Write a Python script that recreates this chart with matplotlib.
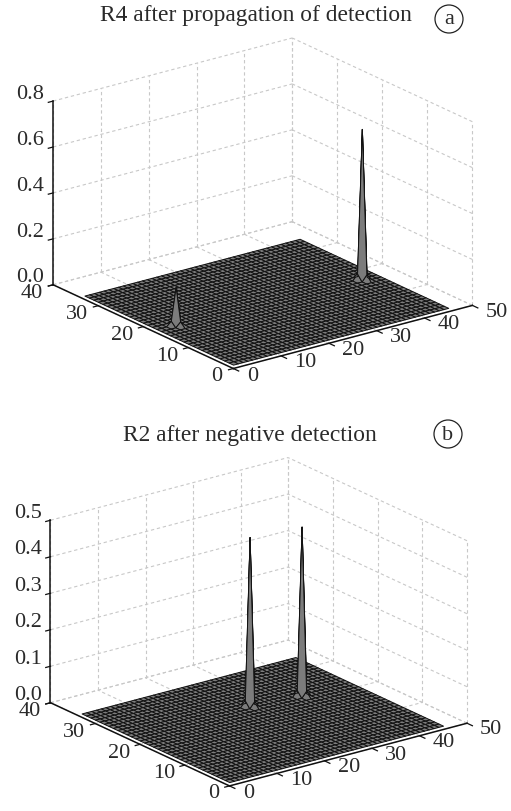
import matplotlib
matplotlib.use('Agg')
import matplotlib.pyplot as plt
import numpy as np
from matplotlib.patches import Ellipse
from mpl_toolkits.mplot3d import proj3d

plt.rcParams['font.family'] = ['Liberation Serif', 'DejaVu Serif']

# surface grid (1-based sample indices)
nx = 46
ny = 34

x_ticks = [0, 10, 20, 30, 40, 50]
y_ticks = [0, 10, 20, 30, 40]
z_ticks_a = [0.0, 0.2, 0.4, 0.6, 0.8]
z_ticks_b = [0.0, 0.1, 0.2, 0.3, 0.4, 0.5]

# peaks: column, row, height, height of the two small side bumps
peak_x_a = [43, 5]
peak_y_a = [17, 18]
peak_z_a = [0.65, 0.16]
side_z_a = [0.026, 0.02]
peak_x_b = [26, 36]
peak_y_b = [23, 22]
peak_z_b = [0.46, 0.46]
side_z_b = [0.016, 0.016]

W, H = 511, 811
GRID = '#c8c8c8'
TXT = '#2a2a2a'
FS = 16
AX_SIZE = 500


def draw_panel(center, peak_x, peak_y, peak_z, side_z, z_ticks, zoom):
    cx, cy = center
    ax = fig.add_axes([(cx - AX_SIZE / 2) / W, (H - cy - AX_SIZE / 2) / H, AX_SIZE / W, AX_SIZE / H],
                      projection='3d', computed_zorder=False)
    ax.set_proj_type('ortho')
    ax.view_init(elev=20.5, azim=-127)
    zmax = z_ticks[-1]
    zs = zmax / 0.8
    ax.set_xlim(0, 50, view_margin=0)
    ax.set_ylim(0, 40, view_margin=0)
    ax.set_zlim(0, zmax, view_margin=0)
    ax.set_box_aspect((1, 1, 0.655), zoom=zoom)
    ax.set_axis_off()
    ax.patch.set_alpha(0)

    def tick_label(x, y, z, s):
        x2, y2, _ = proj3d.proj_transform(x, y, z, ax.get_proj())
        ax.text2D(x2, y2, s, transform=ax.transData, ha='center', va='center',
                  fontsize=FS, color=TXT, zorder=6)

    gkw = dict(color=GRID, lw=0.8, ls=(0, (3, 2.5)), zorder=1)
    for t in x_ticks:
        ax.plot([t, t], [0, 40], [0, 0], **gkw)
        ax.plot([t, t], [40, 40], [0, zmax], **gkw)
    for t in y_ticks:
        ax.plot([0, 50], [t, t], [0, 0], **gkw)
        ax.plot([50, 50], [t, t], [0, zmax], **gkw)
    for t in z_ticks:
        ax.plot([0, 50], [40, 40], [t, t], **gkw)
        ax.plot([50, 50], [0, 40], [t, t], **gkw)

    X, Y = np.meshgrid(np.arange(1, nx + 1), np.arange(1, ny + 1))
    Z = np.zeros_like(X, dtype=float)
    for px, py, pz, sz in zip(peak_x, peak_y, peak_z, side_z):
        Z[py - 1, px - 1] = pz
        Z[py - 1, px - 2] = sz
        Z[py - 2, px - 1] = sz
    ax.plot_surface(X, Y, Z, rstride=1, cstride=1, color='#7c7c7c', edgecolor='#111111',
                    linewidth=0.7, shade=False, antialiased=True, zorder=3)

    akw = dict(color='#111111', lw=1.1, zorder=5, solid_capstyle='projecting')
    ax.plot([0, 50], [0, 0], [0, 0], **akw)
    ax.plot([0, 0], [0, 40], [0, 0], **akw)
    ax.plot([0, 0], [40, 40], [0, zmax], **akw)

    # the two 0 labels sit closer to the corner than the others
    tkw = dict(color='#111111', lw=0.9, zorder=5)
    for t in x_ticks:
        ax.plot([t, t], [0, -1.2], [0, 0], **tkw)
        tick_label(t - 0.6 if t == 0 else t + 0.4, -5, 0.014 * zs, str(t))
    for t in y_ticks:
        ax.plot([0, -1.0], [t, t], [0, 0], **tkw)
        tick_label(-3.4 if t == 0 else -4.4, t, -0.014 * zs, str(t))
    for t in z_ticks:
        ax.plot([0, -1.0], [40, 40], [t, t], **tkw)
        tick_label(-4.8, 40, t + 0.056 * zs, f'{t:.1f}')
    return ax


def label(text, tx, ty, circ_x, circ_y, letter):
    fig.text(tx / W, 1 - ty / H, text, ha='center', va='center', fontsize=16.9, color=TXT)
    fig.add_artist(Ellipse((circ_x / W, 1 - circ_y / H), 28 / W, 28 / H, transform=fig.transFigure,
                           facecolor='none', edgecolor='#222222', lw=0.9))
    fig.text(circ_x / W, 1 - (circ_y + 1) / H, letter, ha='center', va='center', fontsize=FS, color=TXT)


fig = plt.figure(figsize=(W / 100, H / 100), dpi=100)
draw_panel((256, 210), peak_x_a, peak_y_a, peak_z_a, side_z_a, z_ticks_a, 0.906)
draw_panel((252, 628.5), peak_x_b, peak_y_b, peak_z_b, side_z_b, z_ticks_b, 0.9)
label('R4 after propagation of detection', 256, 16, 449, 19, 'a')
label('R2 after negative detection', 250, 435, 448, 434, 'b')

plt.savefig('out.png', dpi=100)
